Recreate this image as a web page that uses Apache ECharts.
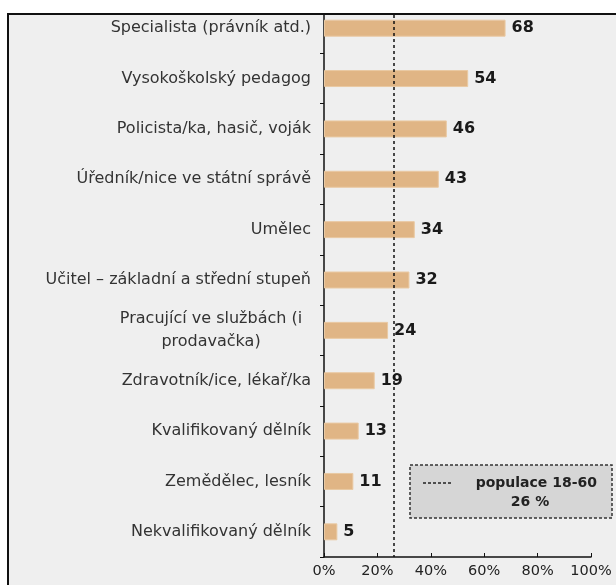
<!DOCTYPE html>
<html>
<head>
<meta charset="utf-8">
<script src="https://cdn.jsdelivr.net/npm/echarts@6/dist/echarts.min.js"></script>
<style>
  html, body { margin: 0; padding: 0; background: #fff; }
  #chart { width: 616px; height: 585px; }
</style>
</head>
<body>
<div id="chart"></div>
<script>
const categories = [
  'Specialista (právník atd.)',
  'Vysokoškolský pedagog',
  'Policista/ka, hasič, voják',
  'Úředník/nice ve státní správě',
  'Umělec',
  'Učitel – základní a střední stupeň',
  'Pracující ve službách (i\nprodavačka)',
  'Zdravotník/ice, lékař/ka',
  'Kvalifikovaný dělník',
  'Zemědělec, lesník',
  'Nekvalifikovaný dělník'
]
const values = [68, 54, 46, 43, 34, 32, 24, 19, 13, 11, 5]
const populationShare = 26
const xTicks = [0, 20, 40, 60, 80, 100]

const font = 'DejaVu Sans'
const chart = echarts.init(document.getElementById('chart'))

chart.setOption({
  animation: false,
  backgroundColor: '#fff',
  textStyle: { fontFamily: font },
  graphic: [
    {
      type: 'rect', z: -10,
      shape: { x: 8, y: 14, width: 620, height: 580 },
      style: { fill: '#efefef', stroke: '#111', lineWidth: 2 }
    },
    {
      type: 'rect', z: 100,
      shape: { x: 0, y: 0, width: 616, height: 13 },
      style: { fill: '#fff' }
    },
    {
      type: 'line', z: 101,
      shape: { x1: 8, y1: 14, x2: 616, y2: 14 },
      style: { stroke: '#111', lineWidth: 2 }
    },
    {
      type: 'rect', z: 50,
      shape: { x: 410, y: 465, width: 202, height: 53 },
      style: { fill: '#d6d6d6', stroke: '#333', lineWidth: 1.5, lineDash: [3, 2] }
    },
    {
      type: 'line', z: 51,
      shape: { x1: 423, y1: 483, x2: 452, y2: 483 },
      style: { stroke: '#222', lineWidth: 1.5, lineDash: [3, 2] }
    },
    {
      type: 'text', z: 51, x: 597, y: 483,
      style: { text: 'populace 18-60', font: 'bold 14px "DejaVu Sans"', fill: '#222', textAlign: 'right', textVerticalAlign: 'middle' }
    },
    {
      type: 'text', z: 51, x: 530, y: 502,
      style: { text: populationShare + ' %', font: 'bold 14px "DejaVu Sans"', fill: '#222', textAlign: 'center', textVerticalAlign: 'middle' }
    }
  ],
  grid: { left: 324, right: 25, top: 3, bottom: 28, containLabel: false },
  xAxis: {
    type: 'value',
    min: xTicks[0],
    max: xTicks[xTicks.length - 1],
    interval: 20,
    axisLine: { show: true, lineStyle: { color: '#111', width: 1.5 } },
    axisTick: { show: true, inside: true, length: 4, lineStyle: { color: '#111' } },
    splitLine: { show: false },
    axisLabel: { formatter: '{value}%', color: '#222', fontSize: 14.5, margin: 7, fontFamily: font }
  },
  yAxis: {
    type: 'category',
    data: categories,
    inverse: true,
    axisLine: { show: true, lineStyle: { color: '#111', width: 1.5 } },
    axisTick: { show: true, length: 4, lineStyle: { color: '#111' } },
    axisLabel: {
      color: '#333',
      fontSize: 16,
      margin: 13,
      align: 'right',
      fontFamily: font,
      formatter: function (v) {
        if (v.indexOf('\n') < 0) return v
        return v.split('\n').map(function (s) { return '{c|' + s + '}' }).join('\n')
      },
      rich: {
        c: { width: 200, align: 'center', fontSize: 16, lineHeight: 23, color: '#333', fontFamily: font }
      }
    }
  },
  series: [
    {
      type: 'bar',
      data: values,
      barWidth: 17,
      itemStyle: { color: '#e0b585', borderColor: '#e9c9a3', borderWidth: 1 },
      label: {
        show: true,
        position: 'right',
        distance: 6,
        color: '#1a1a1a',
        fontWeight: 'bold',
        fontSize: 16,
        fontFamily: font
      },
      markLine: {
        silent: true,
        symbol: 'none',
        label: { show: false },
        lineStyle: { color: '#111', type: [3, 3], width: 1.5 },
        data: [{ xAxis: populationShare }]
      }
    }
  ]
})
</script>
</body>
</html>
